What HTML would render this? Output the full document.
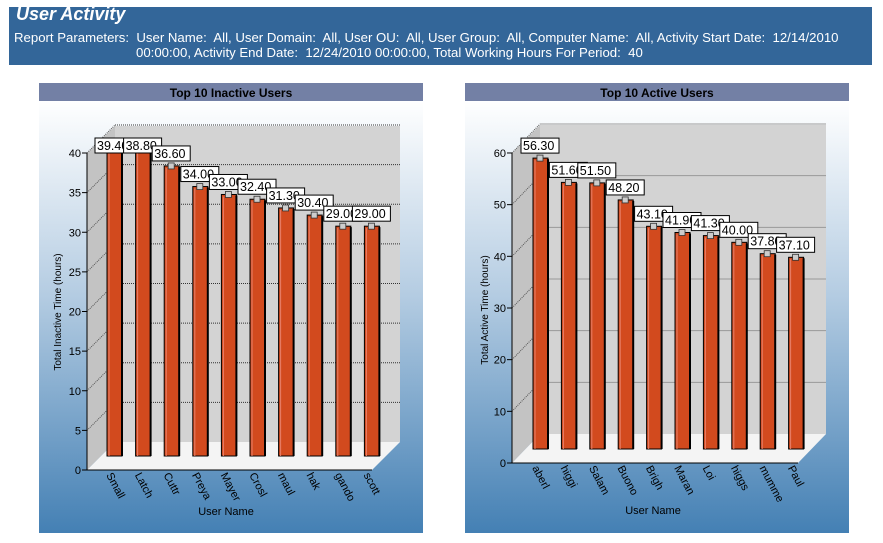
<!DOCTYPE html>
<html><head><meta charset="utf-8">
<style>
body{margin:0;width:883px;height:543px;background:#fff;font-family:"Liberation Sans",sans-serif;position:relative;overflow:hidden}
#hdr{position:absolute;left:9px;top:7px;width:863px;height:58px;background:#336699;color:#fff}
#hdr .t{position:absolute;left:7px;top:-3px;font-size:18px;font-weight:bold;font-style:italic}
#hdr .p{position:absolute;left:5px;top:23px;font-size:13.2px;line-height:15px;white-space:nowrap}
svg{position:absolute;left:0;top:0}
</style></head><body>
<div id="hdr"><div class="t">User Activity</div>
<div class="p">Report Parameters:&nbsp; User Name:&nbsp; All, User Domain:&nbsp; All, User OU:&nbsp; All, User Group:&nbsp; All, Computer Name:&nbsp; All, Activity Start Date:&nbsp; 12/14/2010<br><span style="padding-left:122px">00:00:00, Activity End Date:&nbsp; 12/24/2010 00:00:00, Total Working Hours For Period:&nbsp; 40</span></div></div>
<svg id="s" width="883" height="543" xmlns="http://www.w3.org/2000/svg" font-family="Liberation Sans, sans-serif"></svg>
<script>
var S='<defs><linearGradient id="g" x1="0" y1="0" x2="0" y2="1"><stop offset="0" stop-color="#ffffff"/><stop offset="0.45" stop-color="#b4cce2"/><stop offset="1" stop-color="#4480b4"/></linearGradient></defs>';
function chart(o){
 var px=o.px;
 S+='<rect x="'+px+'" y="101" width="384" height="432" fill="url(#g)"/>';
 S+='<rect x="'+px+'" y="83" width="384" height="18" fill="#7380a5"/>';
 S+='<text x="'+(px+192)+'" y="97" text-anchor="middle" font-size="12" font-weight="bold">'+o.title+'</text>';
 var ax=o.ax,y0=o.y0,sc=o.sc,d=28,dy=o.dy,bx=ax+d,fy=y0-dy,wt=o.wt,wr=o.wr,axTop=y0-o.max*sc;
 S+='<rect x="'+bx+'" y="'+wt+'" width="'+(wr-bx)+'" height="'+(fy-wt)+'" fill="#d3d3d3"/>';
 S+='<polygon points="'+ax+','+y0+' '+ax+','+axTop+' '+bx+','+wt+' '+bx+','+fy+'" fill="#c3c3c3"/>';
 S+='<polygon points="'+ax+','+y0+' '+(wr-d)+','+y0+' '+wr+','+fy+' '+bx+','+fy+'" fill="#f4f4f4"/>';
 for(var v=o.step;v<=o.max+0.01;v+=o.step){
  var yb=fy-v*sc;
  S+='<line x1="'+bx+'" y1="'+yb+'" x2="'+wr+'" y2="'+yb+'" stroke="'+(o.dot?'#333':'#999')+'" stroke-width="1"'+(o.dot?' stroke-dasharray="1,1"':'')+'/>';
 }
 for(var v=0;v<=o.max+0.01;v+=o.step){
  var yb=fy-v*sc,yf=y0-v*sc;
  if(v>0)S+='<line x1="'+ax+'" y1="'+yf+'" x2="'+bx+'" y2="'+yb+'" stroke="#555" stroke-dasharray="1,1"/>';
  S+='<line x1="'+(ax-5)+'" y1="'+yf+'" x2="'+ax+'" y2="'+yf+'" stroke="#000"/>';
  S+='<text x="'+(ax-6)+'" y="'+(yf+4)+'" text-anchor="end" font-size="11">'+v+'</text>';
 }
 S+='<line x1="'+ax+'" y1="'+axTop+'" x2="'+ax+'" y2="'+y0+'" stroke="#000"/>';
 S+='<line x1="'+ax+'" y1="'+y0+'" x2="'+(wr-d)+'" y2="'+y0+'" stroke="#000"/>';
 var L='';
 for(var i=0;i<10;i++){
  var c=o.c0+i*o.sp,v=o.vals[i],t=o.bb-v*sc;
  S+='<rect x="'+(c-7)+'" y="'+t+'" width="15" height="'+(o.bb-t)+'" fill="#d24a1e" stroke="#000" stroke-width="1"/>';
  S+='<line x1="'+(c+8)+'" y1="'+(t+1)+'" x2="'+(c+8)+'" y2="'+o.bb+'" stroke="#000" stroke-width="2"/>';
  S+='<line x1="'+(c-5)+'" y1="'+(t+2)+'" x2="'+(c-5)+'" y2="'+o.bb+'" stroke="#e8806a" stroke-width="1"/>';
  S+='<rect x="'+(c-3)+'" y="'+(t-3)+'" width="6" height="6" fill="#ccc" stroke="#333" stroke-width="0.8"/>';
  var by=Math.max(t-20,138);
  L+='<rect x="'+(c-19)+'" y="'+by+'" width="38" height="15" fill="#fff" stroke="#000"/><text x="'+(c-17)+'" y="'+(by+12)+'" font-size="12.5">'+o.vals[i].toFixed(2)+'</text>';
  S+='<text transform="translate('+(c-8)+','+(y0+5)+') rotate(62)" font-size="11">'+o.names[i]+'</text>';
 }
 S+=L;
 S+='<text transform="translate('+o.tx+','+o.ty+') rotate(-90)" text-anchor="middle" font-size="10">'+o.yt+'</text>';
 S+='<text x="'+o.ux+'" y="'+o.uy+'" text-anchor="middle" font-size="11">User Name</text>';
}
chart({px:39,title:'Top 10 Inactive Users',ax:87,y0:470,sc:7.925,dy:28,wt:126,wr:400,max:40,step:5,dot:true,
 c0:114,sp:28.6,bb:456,vals:[39.4,38.8,36.6,34,33,32.4,31.3,30.4,29,29],
 names:['Small','Latch','Cuttr','Preya','Mayer','Crosl','maul','hak','gando','scott'],
 tx:61,ty:312,yt:'Total Inactive Time (hours)',ux:226,uy:515});
chart({px:465,title:'Top 10 Active Users',ax:512,y0:463,sc:5.167,dy:29,wt:125,wr:826,max:60,step:10,dot:false,
 c0:540,sp:28.4,bb:449,vals:[56.3,51.6,51.5,48.2,43.1,41.9,41.3,40,37.8,37.1],
 names:['aberl','higgi','Salam','Buono','Brigh','Maran','Loi','higgs','mumme','Paul'],
 tx:488,ty:310,yt:'Total Active Time (hours)',ux:653,uy:514});
document.getElementById('s').innerHTML=S;
</script>
</body></html>
